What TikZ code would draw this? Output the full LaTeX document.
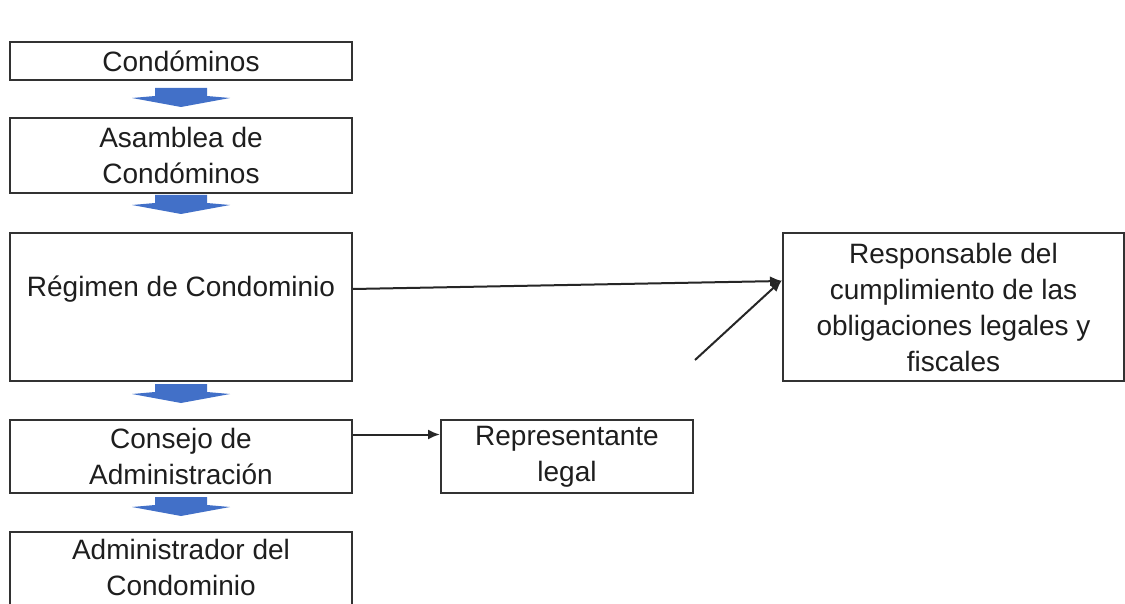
\documentclass[tikz,border=0pt]{standalone}
\usepackage{fontspec}
\setmainfont{Liberation Sans}
\usetikzlibrary{arrows.meta,calc}
\definecolor{arrowblue}{RGB}{66,112,200}
\definecolor{edgegray}{RGB}{50,50,50}
\definecolor{txt}{RGB}{30,30,30}
\tikzset{
  box/.style={draw=edgegray, line width=2pt, fill=white, align=center,
    font=\fontsize{28}{36}\selectfont, text=txt, inner sep=0pt},
  lbl/.style={align=center, font=\fontsize{28}{36}\selectfont, text=txt, inner sep=0pt},
  conn/.style={draw=black!85, line width=2pt, -{Latex[length=12pt,width=10pt]}},
  downarrow/.pic={\fill[arrowblue] (-26,0) -- (26,0) -- (26,8) -- (49,10) -- (0,19) -- (-49,10) -- (-26,8) -- cycle;}
}
\begin{document}
\begin{tikzpicture}[x=1pt,y=-1pt]
\useasboundingbox (0,0) rectangle (1125,604);
\fill[white] (0,0) rectangle (1125,604);
\begin{scope}
\clip (0,0) rectangle (1125,604);
\node[box, minimum width=342pt, minimum height=38pt] (cond) at (181,61) {Condóminos};
\node[box, minimum width=342pt, minimum height=75pt] (asam) at (181,155.5) {Asamblea de\\Condóminos};
\node[box, minimum width=342pt, minimum height=148pt] (reg) at (181,307) {};
\node[lbl] (regt) at (181,289) {Régimen de Condominio};
\node[box, minimum width=342pt, minimum height=73pt] (cons) at (181,456.5) {Consejo de\\Administración};
\node[box, minimum width=342pt, minimum height=78pt] (adm) at (181,571) {};
\node[lbl] (admt) at (181,567) {Administrador del\\Condominio};
\node[box, minimum width=252pt, minimum height=73pt] (rep) at (567,456.5) {Representante\\legal};
\node[box, minimum width=341pt, minimum height=148pt] (resp) at (953.5,307) {Responsable del\\cumplimiento de las\\obligaciones legales y\\fiscales};

\pic at ($(cond.south)+(0,7)$) {downarrow};
\pic at ($(asam.south)+(0,1)$) {downarrow};
\pic at ($(reg.south)+(0,2)$) {downarrow};
\pic at ($(cons.south)+(0,3)$) {downarrow};

\coordinate (d) at (695,360);
\draw[conn] ([yshift=18pt]reg.east) -- ([yshift=26pt]resp.west);
\draw[conn] (d) -- ([yshift=27pt]resp.west);
\draw[conn] ([yshift=22pt]cons.east) -- ([yshift=22pt]rep.west);
\end{scope}
\end{tikzpicture}
\end{document}
